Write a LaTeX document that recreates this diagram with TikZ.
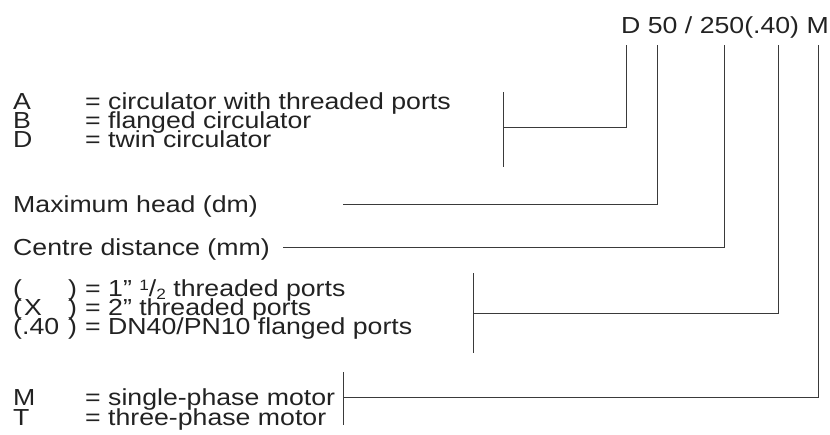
\documentclass[tikz,border=0pt]{standalone}
\usepackage{fontspec}
\setmainfont{Liberation Sans}[FakeStretch=1.15]
\definecolor{tcol}{HTML}{222222}
\definecolor{lcol}{HTML}{3A3A3A}
\newcommand\fsz{\fontsize{23.2}{19}\selectfont}
\newcommand\fsm{\fontsize{15}{15}\selectfont}
\begin{document}
\begin{tikzpicture}[x=1pt,y=-1pt,
  txt/.style={anchor=base west,inner sep=0pt,font=\fsz,text=tcol,text height=16pt,text depth=0pt},
  code/.style={anchor=base east,inner sep=0pt,font=\fsz,text=tcol,text height=16pt,text depth=0pt},
  ln/.style={draw=lcol,line width=1pt}]
\useasboundingbox (0,0) rectangle (830,434);
% type code
\node[code] (code) at (829,33) {D 50 / 250(.40) M};
\coordinate (tD) at (626,45);
\coordinate (t50) at (657,45);
\coordinate (t250) at (724,45);
\coordinate (t40) at (778,45);
\coordinate (tM) at (818,45);
% A B D
\node[txt] (lA) at (13,109) {A};
\node[txt] (dA) at (85,109) {= circulator with threaded ports};
\node[txt] (lB) at (13,128) {B};
\node[txt] (dB) at (85,128) {= flanged circulator};
\node[txt] (lDD) at (13,147) {D};
\node[txt] (dD) at (85,147) {= twin circulator};
\coordinate (bA1) at (503,92);
\coordinate (bA2) at (503,167);
\coordinate (bAm) at (503,127);
\draw[ln] (bA1) -- (bA2);
\draw[ln] (bAm) -| (tD);
% maximum head
\node[txt] (mh) at (13,212) {Maximum head (dm)};
\coordinate (mhe) at (343,204);
\draw[ln] (mhe) -| (t50);
% centre distance
\node[txt] (cd) at (13,255) {Centre distance (mm)};
\coordinate (cde) at (283,247);
\draw[ln] (cde) -| (t250);
% ports
\node[txt] (p1a) at (13,296) {(};
\node[txt] (p1b) at (68,296) {)};
\node[txt] (p1c) at (85,296) {= 1” \raisebox{6pt}{\fsm 1}/\raisebox{-3pt}{\fsm 2} threaded ports};
\node[txt] (p2a) at (13,315) {(};
\node[txt] (p2x) at (24,315) {X};
\node[txt] (p2b) at (68,315) {)};
\node[txt] (p2c) at (85,315) {= 2” threaded ports};
\node[txt] (p3a) at (13,334) {(};
\node[txt] (p3x) at (22,334) {.40};
\node[txt] (p3b) at (68,334) {)};
\node[txt] (p3c) at (85,334) {= DN40/PN10 flanged ports};
\coordinate (bP1) at (473,273);
\coordinate (bP2) at (473,353);
\coordinate (bPm) at (473,313);
\draw[ln] (bP1) -- (bP2);
\draw[ln] (bPm) -| (t40);
% motor
\node[txt] (lM) at (13,405) {M};
\node[txt] (dM) at (85,405) {= single-phase motor};
\node[txt] (lT) at (13,425) {T};
\node[txt] (dT) at (85,425) {= three-phase motor};
\coordinate (bM1) at (343,372);
\coordinate (bM2) at (343,425);
\coordinate (bMm) at (343,397);
\draw[ln] (bM1) -- (bM2);
\draw[ln] (bMm) -| (tM);
\end{tikzpicture}
\end{document}
